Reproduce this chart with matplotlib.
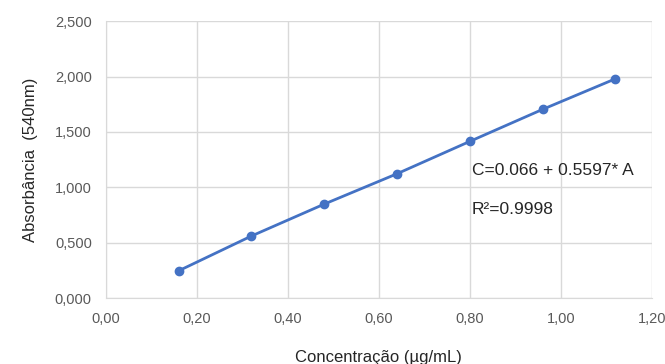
import matplotlib.pyplot as plt
import matplotlib.ticker as ticker

# calibration points
concentracao = [0.16, 0.32, 0.48, 0.64, 0.80, 0.96, 1.12]
absorbancia = [0.246, 0.560, 0.848, 1.122, 1.414, 1.703, 1.979]

equacao = 'C=0.066 + 0.5597* A'
r2_texto = 'R²=0.9998'


def fmt_x(value, pos):
    return f'{value:.2f}'.replace('.', ',')


def fmt_y(value, pos):
    return f'{value:.3f}'.replace('.', ',')


def main():
    plt.rcParams['font.family'] = ['Liberation Sans', 'DejaVu Sans']
    fig = plt.figure(figsize=(6.65, 3.64), dpi=100)
    ax = fig.add_axes([0.159, 0.181, 0.821, 0.761])

    ax.plot(concentracao, absorbancia, color='#4472C4', linewidth=2,
            marker='o', markersize=6, zorder=3)

    ax.set_xlim(0, 1.2)
    ax.set_ylim(0, 2.5)
    ax.set_xticks([0, 0.2, 0.4, 0.6, 0.8, 1.0, 1.2])
    ax.set_yticks([0, 0.5, 1.0, 1.5, 2.0, 2.5])
    ax.xaxis.set_major_formatter(ticker.FuncFormatter(fmt_x))
    ax.yaxis.set_major_formatter(ticker.FuncFormatter(fmt_y))

    ax.grid(True, color='#D9D9D9', linewidth=1)
    ax.set_axisbelow(True)
    for side in ['top', 'right']:
        ax.spines[side].set_visible(False)
    for side in ['left', 'bottom']:
        ax.spines[side].set_color('#D9D9D9')
    ax.tick_params(length=0, labelsize=10.5, colors='#595959', pad=10)

    ax.set_xlabel('Concentração (µg/mL)', fontsize=12, color='#262626', labelpad=17)
    ax.set_ylabel('Absorbância  (540nm)', fontsize=12, color='#262626', labelpad=12)

    ax.text(0.804, 1.155, equacao, fontsize=12.5, color='#262626', va='center')
    ax.text(0.804, 0.80, r2_texto, fontsize=12.5, color='#262626', va='center')

    plt.savefig('out.png', dpi=100)


if __name__ == '__main__':
    main()
